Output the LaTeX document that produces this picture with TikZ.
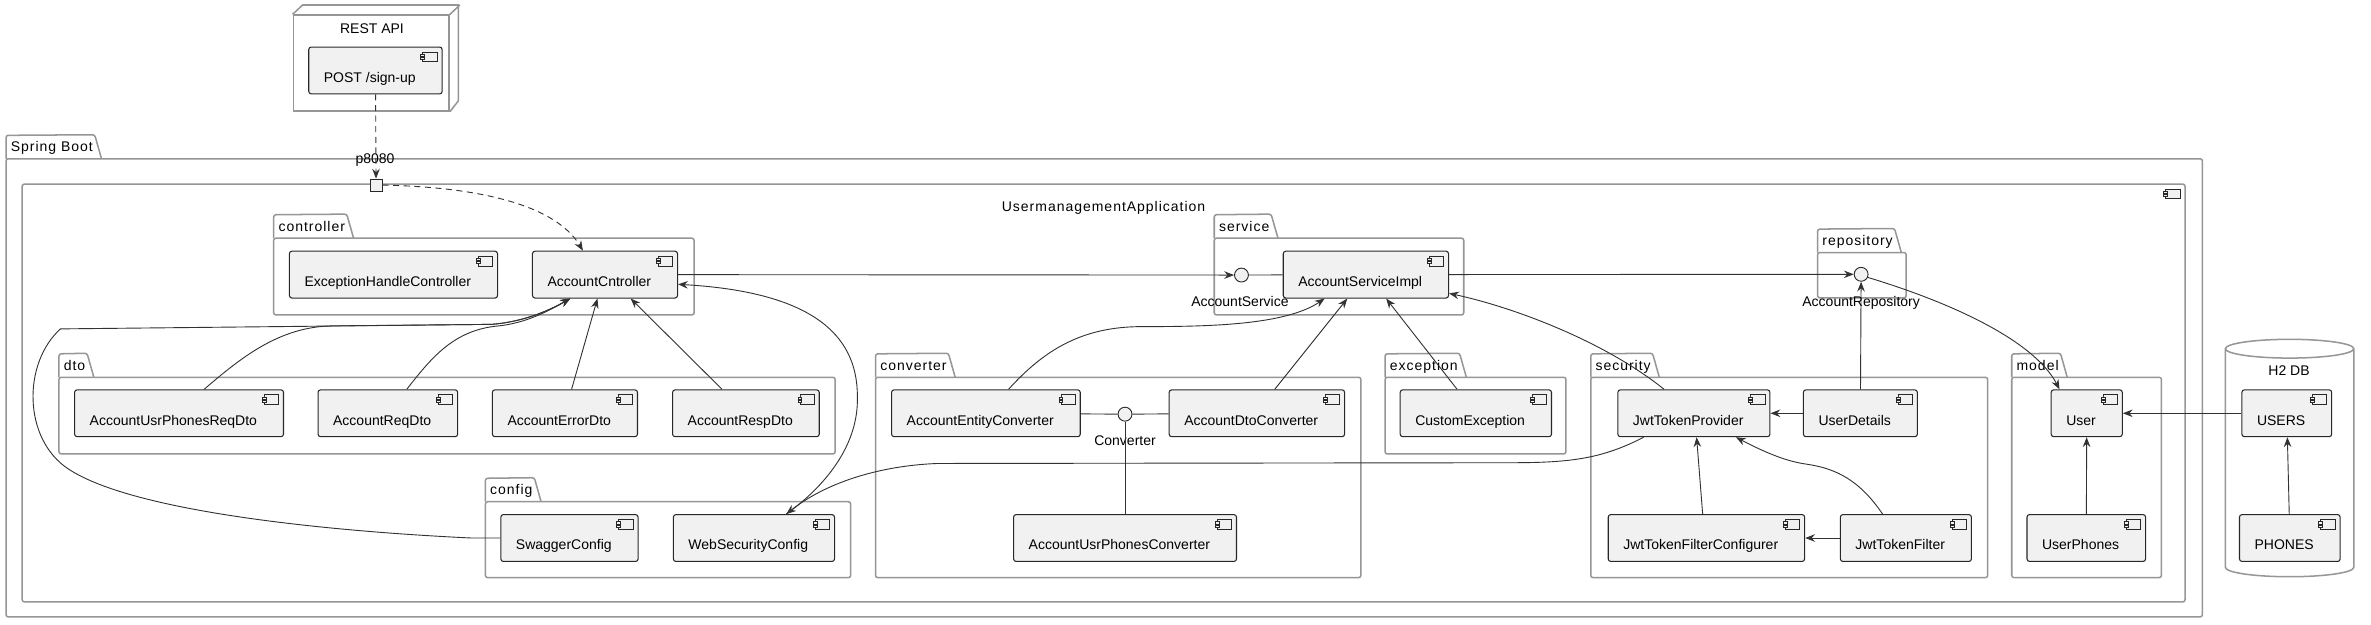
\documentclass[tikz,border=0pt]{standalone}
\usepackage{fontspec}
\setmainfont{Liberation Sans}
\newfontfamily\spacedfont[LetterSpace=7]{Liberation Sans}
\usetikzlibrary{arrows.meta, calc}
\definecolor{frame-gray}{RGB}{150,150,150}
\definecolor{comp-line}{RGB}{40,40,40}
\definecolor{comp-fill}{RGB}{241,241,241}
\definecolor{link-gray}{RGB}{50,50,50}
\newcommand{\lblfont}{\fontsize{9.26pt}{11pt}\selectfont}
\newcommand{\pkgfont}{\spacedfont\fontsize{9.26pt}{11pt}\selectfont}
% package frame: name, left x, tab top y, right x, bottom y, label
\newcommand{\pkgframe}[6]{%
  \node[pkglabel] (#1) at ({#2+3},{#3+15.5}) {#6};
  \draw[frame, rounded corners=1.5pt] ({#2},{#3+15.5}) -- ({#2},{#3})
    -- ([xshift=1pt]#1.north east) -- ([xshift=5.5pt]#1.south east);
  \draw[frame, rounded corners=1.5pt] ({#2},{#3+15.5}) rectangle ({#4},{#5});
}

\begin{document}
\begin{tikzpicture}[
  x=1pt, y=-1pt,
  >=Stealth,
  frame/.style={draw=frame-gray, line width=1pt},
  pkglabel/.style={anchor=south west, inner sep=0pt, minimum height=15.5pt,
                   text height=6.7pt, text depth=0pt, font=\pkgfont},
  compicon/.style={path picture={
      \draw[comp-line, line width=0.5pt, fill=comp-fill, sharp corners]
        ([shift={(-12.8pt,-3.3pt)}]path picture bounding box.north east)
        rectangle ++(9.5pt,-6.5pt);
      \draw[comp-line, line width=0.5pt, fill=comp-fill, sharp corners]
        ([shift={(-14.1pt,-4.7pt)}]path picture bounding box.north east)
        rectangle ++(2.6pt,-1.5pt)
        ([shift={(-14.1pt,-6.9pt)}]path picture bounding box.north east)
        rectangle ++(2.6pt,-1.5pt);}},
  comp/.style={draw=comp-line, fill=comp-fill, line width=0.7pt,
               rounded corners=1.7pt, minimum height=31pt, inner xsep=10pt,
               inner ysep=0pt, text height=23.3pt, text depth=7.7pt,
               font=\lblfont, execute at end node={\hspace*{7.5pt}}, compicon},
  iface/.style={circle, draw=comp-line, fill=comp-fill, line width=0.6pt,
                minimum size=9.2pt, inner sep=0pt},
  lbl/.style={font=\lblfont, inner sep=0pt},
  plain/.style={draw=link-gray, line width=0.6pt},
  dep/.style={plain, -{Stealth[length=6.5pt, width=5pt, inset=2.2pt]}},
]
\fill[white] (0,0) rectangle (1568,413);
\useasboundingbox (0,0) rectangle (1568,413);

% REST API node
\node[frame, fill=white, minimum width=103pt, minimum height=63.4pt, inner sep=0pt]
  (restapi) at (245.5,41.7) {};
\draw[frame] (restapi.north west) -- ++(6.6,-6.2) -- ++(103,0) -- ++(0,63.4)
  -- (restapi.south east) (restapi.north east) -- ++(6.6,-6.2);
\node[lbl] (restapi-lbl) at (246,19) {REST API};
\node[comp] (signup) at (248.3,46.6) {POST /sign-up};

% packages
\pkgframe{pkg-spring}{4}{89.5}{1456.5}{408}{Spring Boot}
\node[frame, rounded corners=1.5pt, minimum width=1430.3pt, minimum height=276.4pt,
      inner sep=0pt, compicon] (uma) at (729.85,259.9) {};
\node[font=\pkgfont, inner sep=0pt] (uma-lbl) at (729.8,137.6) {UsermanagementApplication};
\pkgframe{pkg-controller}{181}{142}{459}{208.3}{controller}
\pkgframe{pkg-dto}{39}{234}{552.3}{300.2}{dto}
\pkgframe{pkg-config}{321}{316.3}{562.6}{382}{config}
\pkgframe{pkg-service}{803}{142}{968}{208.3}{service}
\pkgframe{pkg-repository}{1202}{151.5}{1260.6}{197}{repository}
\pkgframe{pkg-converter}{579}{234}{900}{382}{converter}
\pkgframe{pkg-exception}{916}{234}{1035.6}{300.2}{exception}
\pkgframe{pkg-security}{1052}{234}{1314.5}{382}{security}
\pkgframe{pkg-model}{1330.4}{234}{1429.4}{382}{model}

% H2 DB
\draw[frame, fill=white] (1471.7,230.6) -- (1471.7,375.2)
  arc[start angle=180, end angle=360, x radius=42.45pt, y radius=6.2pt]
  -- (1556.6,230.6)
  arc[start angle=0, end angle=180, x radius=42.45pt, y radius=6.2pt] -- cycle;
\draw[frame] (1471.7,230.6)
  arc[start angle=180, end angle=360, x radius=42.45pt, y radius=6.2pt];
\node[lbl] (h2db-lbl) at (1513.8,245.1) {H2 DB};

% port
\node[draw=comp-line, line width=0.6pt, fill=comp-fill, minimum size=8pt, inner sep=0pt]
  (port) at (248.7,122.4) {};
\node[lbl] (port-lbl) at (248,106) {p8080};

% components
\node[comp] (exhctrl)   at (260.2,181.6) {ExceptionHandleController};
\node[comp] (ctrl)      at (400.1,181.6) {AccountCntroller};
\node[comp] (usrphreq)  at (118.4,273.3) {AccountUsrPhonesReqDto};
\node[comp] (accreq)    at (256.5,273.3) {AccountReqDto};
\node[comp] (accerr)    at (373.6,273.3) {AccountErrorDto};
\node[comp] (accresp)   at (493.3,273.3) {AccountRespDto};
\node[comp] (swagger)   at (376.6,355.8) {SwaggerConfig};
\node[comp] (websec)    at (498.6,355.8) {WebSecurityConfig};
\node[comp] (svcimpl)   at (903.3,181.6) {AccountServiceImpl};
\node[comp] (entconv)   at (652,273.3)   {AccountEntityConverter};
\node[comp] (dtoconv)   at (831.2,273.3) {AccountDtoConverter};
\node[comp] (usrphconv) at (744,355.8)   {AccountUsrPhonesConverter};
\node[comp] (custexc)   at (976,273.3)   {CustomException};
\node[comp] (jwtprov)   at (1120.2,273.3) {JwtTokenProvider};
\node[comp] (usrdet)    at (1230.3,273.3) {UserDetails};
\node[comp] (jwtcfg)    at (1128.5,355.8) {JwtTokenFilterConfigurer};
\node[comp] (jwtfilt)   at (1260.4,355.8) {JwtTokenFilter};
\node[comp] (user)      at (1380,273.3)  {User};
\node[comp] (usrphones) at (1379.7,355.8) {UserPhones};
\node[comp] (users)     at (1512.3,273.3) {USERS};
\node[comp] (phones)    at (1514.3,355.8) {PHONES};

% interfaces
\node[iface] (accsvc)  at (821,181.9)    {};
\node[lbl]   (accsvc-lbl) at (820,199.5) {AccountService};
\node[iface] (conv)    at (744,273.9)    {};
\node[lbl]   (conv-lbl) at (744,291.7)   {Converter};
\node[iface] (accrepo) at (1230.8,181.4) {};
\node[lbl]   (accrepo-lbl) at (1230.8,200.2) {AccountRepository};

% links
\draw[dep, dash pattern=on 4pt off 3pt] (signup) -- (port);
\draw[dep, dash pattern=on 4pt off 3pt] (port.east)
  .. controls (330,124) and (370,140) .. ([xshift=-14.6pt]ctrl.north);

\foreach \a/\b in {ctrl/accsvc, svcimpl/accrepo, usrdet/accrepo, usrdet/jwtprov,
                   jwtfilt/jwtcfg, usrphones/user, users/user, phones/users}
  \draw[dep] (\a) -- (\b);
\foreach \a/\b in {accsvc/svcimpl, entconv/conv, conv/dtoconv, conv/usrphconv}
  \draw[plain] (\a) -- (\b);

\draw[dep] (accrepo.-25) .. controls (1290,200) and (1345,225) .. ([xshift=-18pt]user.north);
\draw[dep] ([xshift=-2.5pt]jwtcfg.north) -- ([xshift=1.8pt]jwtprov.south);
\draw[dep] ([xshift=-15.4pt]jwtfilt.north) .. controls (1230,318) and (1215,310) .. (1195,307)
  .. controls (1180,305) and (1165,298) .. ([xshift=27.8pt]jwtprov.south);
\draw[dep] ([xshift=-19.7pt]jwtprov.north) .. controls (1060,225) and (1000,203)
  .. ([yshift=-12.4pt]svcimpl.east);
\draw[dep] ([xshift=-12.4pt]custexc.north) -- ([xshift=13.4pt]svcimpl.south);
\draw[dep] ([xshift=11.8pt]dtoconv.north) -- ([xshift=-12.3pt]svcimpl.south);
\draw[dep] ([xshift=15pt]entconv.north) .. controls (690,232) and (715,216) .. (755,216)
  .. controls (800,216) and (850,215) .. ([xshift=-27.3pt]svcimpl.south);

\draw[dep] ([xshift=16.6pt]usrphreq.north) .. controls (160,236) and (185,216) .. (220,215.5)
  -- (325,214.5) .. controls (345,213) and (362,206) .. ([xshift=-23pt]ctrl.south);
\draw[dep] ([xshift=12.5pt]accreq.north) .. controls (285,237) and (300,218) .. (330,215.5)
  .. controls (348,213.5) and (362,206) .. ([xshift=-23pt]ctrl.south);
\draw[dep] (swagger.west) -- (312,355.8) .. controls (230,352) and (90,340) .. (45,310)
  .. controls (15,290) and (15,240) .. (40,217.5) -- (325,214.5)
  .. controls (345,213) and (362,206) .. ([xshift=-23pt]ctrl.south);
\draw[dep] ([xshift=4.4pt]accerr.north) -- ([xshift=-5pt]ctrl.south);
\draw[dep] ([xshift=-15.8pt]accresp.north) -- ([xshift=17pt]ctrl.south);
\draw[dep] ([xshift=21.4pt]websec.north) .. controls (545,322) and (568,295) .. (567,262)
  .. controls (567,220) and (535,193) .. ([yshift=-6.4pt]ctrl.east);
\draw[dep] ([xshift=-33.2pt]jwtprov.south) .. controls (1060,303) and (1040,306) .. (1000,306)
  -- (620,306.5) .. controls (580,308) and (545,320) .. ([xshift=21.4pt]websec.north);
\end{tikzpicture}
\end{document}
